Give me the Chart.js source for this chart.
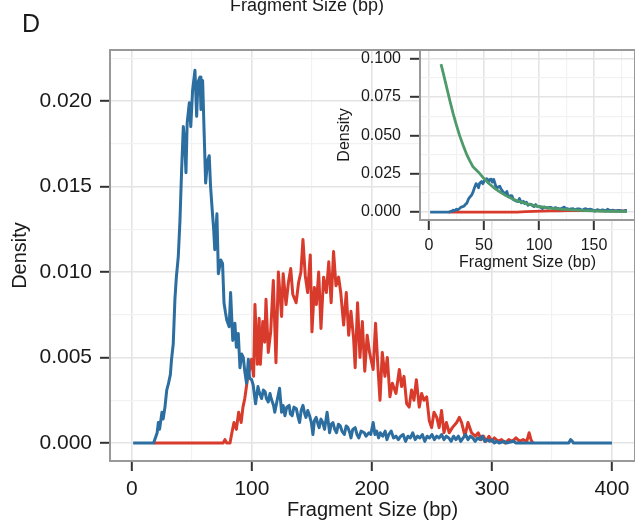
<!DOCTYPE html>
<html>
<head>
<meta charset="utf-8">
<script src="https://cdn.jsdelivr.net/npm/chart.js@4.4.1/dist/chart.umd.min.js"></script>
<style>
  html, body { margin: 0; padding: 0; background: #fff; }
  #wrap { position: relative; width: 635px; height: 522px; overflow: hidden;
          font-family: "Liberation Sans", Arial, sans-serif; color: #1a1a1a; }
  #mainChart { position: absolute; left: 0; top: 0; }
  #insetChart { position: absolute; left: 330px; top: 40px; }
  .label { position: absolute; white-space: nowrap; }
  #panelLetter { left: 22px; top: 11px; font-size: 25px; line-height: 25px; }
  #topTitle { left: 157px; top: -4px; width: 300px; text-align: center; font-size: 18px; line-height: 18px; }
</style>
</head>
<body>
<div id="wrap">
  <canvas id="mainChart" width="635" height="522"></canvas>
  <canvas id="insetChart" width="305" height="235"></canvas>
  <div class="label" id="panelLetter">D</div>
  <div class="label" id="topTitle">Fragment Size (bp)</div>
</div>
<script>
// --- DATA ---
const blueSize = [
  1, 18, 20, 21, 22, 23, 25, 26, 27.5, 29,
  30.5, 32, 33, 34.4, 35.8, 37, 38.6, 40, 41.4, 42.8,
  44, 45, 46, 47.8, 49, 50.5, 52.5, 53.9, 55, 56.7,
  57.5, 58.9, 60, 61.4, 63, 64.4, 65.5, 67, 68, 69,
  70.8, 72, 74, 75.5, 76.7, 78, 79, 81, 82.2, 84,
  85.8, 87, 88.6, 90, 91.5, 92.8, 94, 95.5, 97, 98,
  99.7, 101, 103, 105, 106, 108, 109.5, 111, 112, 113.6,
  115, 116, 118, 119, 121, 123, 124.7, 126, 127.5, 129,
  131, 132, 133.5, 135, 137, 138.5, 139.7, 141, 142.5, 144,
  145, 146.5, 148, 149.5, 150.8, 152, 153.5, 155, 156, 157.5,
  159, 160.5, 162.6, 164.7, 166, 167.5, 169, 170.5, 172, 173.6,
  175, 177, 178.5, 180, 181.5, 182.5, 184, 186, 187.5, 189,
  191, 193.6, 195, 197.5, 199, 201, 202.5, 204, 205.5, 207,
  209, 211, 212.5, 214, 216, 218, 220, 222, 224, 226,
  228, 230, 232, 234, 236, 238, 240, 242, 244, 246,
  248, 250, 252, 254, 256, 258, 260, 262, 264, 266,
  268, 270, 272, 274, 276, 278, 280, 282, 284, 286,
  288, 290, 292, 294, 296, 298, 300, 302, 304, 306,
  310, 312, 318, 320, 364, 365.5, 367, 368, 400
];
const blueDensity = [
  0, 0, 0.0004, 0.0006, 0.0012, 0.0008, 0.0018, 0.0014, 0.0021, 0.0031,
  0.0035, 0.0040, 0.0049, 0.0058, 0.0084, 0.0097, 0.0109, 0.0130, 0.0160, 0.0185,
  0.0175, 0.0158, 0.0187, 0.0199, 0.0185, 0.0206, 0.0218, 0.0191, 0.0211, 0.0214,
  0.0195, 0.0212, 0.0185, 0.0152, 0.0165, 0.0168, 0.0150, 0.0135, 0.0126, 0.0113,
  0.0134, 0.0099, 0.0107, 0.0105, 0.0082, 0.0076, 0.0072, 0.0068, 0.0088, 0.0060,
  0.0070, 0.0056, 0.0064, 0.0044, 0.0052, 0.0050, 0.0042, 0.0035, 0.0049, 0.0038,
  0.0037, 0.0034, 0.0023, 0.0033, 0.0030, 0.0026, 0.0031, 0.0030, 0.0026, 0.0024,
  0.0029, 0.0026, 0.0022, 0.0018, 0.0025, 0.0032, 0.0018, 0.0022, 0.0016, 0.0021,
  0.0022, 0.0017, 0.0016, 0.0021, 0.0020, 0.0015, 0.0012, 0.0019, 0.0022, 0.0017,
  0.0015, 0.0019, 0.0016, 0.0012, 0.0005, 0.0013, 0.0015, 0.0011, 0.0009, 0.0014,
  0.0012, 0.0008, 0.0018, 0.0006, 0.0011, 0.0012, 0.0008, 0.0006, 0.0011, 0.0010,
  0.0007, 0.0005, 0.0010, 0.0009, 0.0006, 0.0003, 0.0008, 0.0009, 0.0005, 0.0003,
  0.0007, 0.0006, 0.0004, 0.0006, 0.0005, 0.0012, 0.0005, 0.0007, 0.0003, 0.0006,
  0.0004, 0.0007, 0.0002, 0.0005, 0.0007, 0.0003, 0.0004, 0.0002, 0.0004, 0.0005,
  0.0001, 0.0004, 0.0003, 0.0006, 0.0002, 0.0004, 0.0003, 0.0005, 0.0001, 0.0004,
  0.0003, 0.0005, 0.0002, 0.0004, 0.0003, 0.0005, 0.0002, 0.0004, 0.0003, 0.0001,
  0.0004, 0.0002, 0.0004, 0.0001, 0.0003, 0.0005, 0.0002, 0.0004, 0.0003, 0.0001,
  0.0003, 0.0002, 0.0004, 0.0001, 0.0002, 0.0001, 0.0002, 0, 0.0001, 0,
  0.0001, 0, 0.0001, 0, 0, 0.0002, 0.0001, 0, 0
];

const redSize = [
  18, 76, 77.5, 79, 81.7, 83, 85, 87, 88.9, 91,
  92.5, 94, 95, 97, 98.6, 99.7, 101.4, 102.5, 104.5, 106,
  107, 109, 110.6, 111.7, 113.6, 115.6, 117.8, 120, 122, 124.7,
  126, 128.4, 130.4, 132.3, 134, 136.8, 138.9, 140.8, 142.5, 144.4,
  146.4, 148.6, 150, 152, 153.7, 155.6, 157.5, 159.7, 162, 164,
  166, 168, 170, 172.2, 174, 176.4, 178.6, 180.6, 182.5, 184.7,
  186, 188, 190, 192, 194, 196, 198, 201, 203, 205,
  206.7, 208.6, 210.8, 212.8, 215, 217, 220, 222.8, 224.7, 226.7,
  228.9, 231, 233, 235, 237, 239.4, 241.4, 243.3, 245.6, 247.8,
  249.7, 251.7, 254, 256, 258, 260, 262, 264.4, 267, 270.6,
  272.8, 274.7, 277.5, 280, 283, 286, 288.6, 291, 293, 295,
  297.5, 300, 302, 305, 308, 311, 314, 317, 320, 323,
  326, 329, 331, 332.5, 334
];
const redDensity = [
  0, 0, 0.0002, 0, 0, 0.0005, 0.0012, 0.0008, 0.0018, 0.0012,
  0.0021, 0.0026, 0.0031, 0.0041, 0.0044, 0.0049, 0.0039, 0.0081, 0.0046, 0.0073,
  0.0046, 0.0071, 0.0059, 0.0084, 0.0053, 0.0065, 0.0095, 0.0047, 0.0100, 0.0074,
  0.0099, 0.0081, 0.0094, 0.0102, 0.0087, 0.0082, 0.0094, 0.0100, 0.0119, 0.0098,
  0.0088, 0.0110, 0.0065, 0.0091, 0.0081, 0.0100, 0.0067, 0.0097, 0.0088, 0.0106,
  0.0082, 0.0112, 0.0092, 0.0097, 0.0088, 0.0069, 0.0088, 0.0063, 0.0077, 0.0061,
  0.0044, 0.0082, 0.0050, 0.0071, 0.0042, 0.0063, 0.0053, 0.0043, 0.0070, 0.0044,
  0.0025, 0.0053, 0.0039, 0.0050, 0.0027, 0.0035, 0.0029, 0.0043, 0.0033, 0.0039,
  0.0023, 0.0021, 0.0031, 0.0025, 0.0037, 0.0021, 0.0029, 0.0025, 0.0027, 0.0013,
  0.0009, 0.0018, 0.0015, 0.0009, 0.0019, 0.0006, 0.0012, 0.0006, 0.0009, 0.0012,
  0.0015, 0.0012, 0.0004, 0.0012, 0.0006, 0.0004, 0.0006, 0.0002, 0.0004, 0.0001,
  0.0004, 0.0001, 0.0003, 0.0001, 0.0002, 0, 0.0002, 0.0001, 0.0003, 0.0001,
  0.0002, 0.0001, 0.0006, 0.0002, 0
];

// inset: fitted curve (green) and the second sample at inset scale
const greenSize = [10.9, 13, 16, 19, 22, 25, 28, 31, 34, 37, 40, 45, 50, 55, 60, 65, 70, 76, 83, 90, 100, 110, 120, 130, 143, 160, 180];
const greenDensity = [0.0965, 0.0905, 0.0815, 0.0725, 0.0640, 0.0565, 0.0495, 0.0435, 0.0380, 0.0335, 0.0295, 0.0260, 0.0218, 0.0183, 0.0153, 0.0128, 0.0107, 0.0085, 0.0066, 0.0051, 0.0036, 0.0026, 0.0019, 0.0014, 0.0009, 0.0005, 0.0002];
const insetRedSize = [18, 80, 88, 95, 102, 110, 118, 126, 134, 142, 150, 158, 166, 174, 180];
const insetRedDensity = [0, 0, 0.0002, 0.0004, 0.0006, 0.0008, 0.0007, 0.0009, 0.0010, 0.0009, 0.0010, 0.0008, 0.0009, 0.0007, 0.0008];
const insetMaxSize = 180;

// --- TICKS ---
const mainXTicks = [0, 50, 100, 150, 200, 250, 300, 350, 400];
const mainXLabelled = [0, 100, 200, 300, 400];
const mainYTicks = [0, 0.0025, 0.005, 0.0075, 0.01, 0.0125, 0.015, 0.0175, 0.02, 0.0225];
const mainYLabelled = [0, 0.005, 0.01, 0.015, 0.02];
const insetXTicks = [0, 25, 50, 75, 100, 125, 150, 175];
const insetXLabelled = [0, 50, 100, 150];
const insetYTicks = [0, 0.0125, 0.025, 0.0375, 0.05, 0.0625, 0.075, 0.0875, 0.1];
const insetYLabelled = [0, 0.025, 0.05, 0.075, 0.1];

// --- STYLE ---
const BLUE = '#2c6e9f';
const RED = '#d83b2b';
const GREEN = '#4e9a6a';
const FONT = "'Liberation Sans', Arial, sans-serif";
Chart.defaults.font.family = FONT;
Chart.defaults.color = '#1a1a1a';

function toPoints(xs, ys, maxX) {
  const pts = xs.map((x, i) => ({ x: x, y: ys[i] }));
  return maxX === undefined ? pts : pts.filter(p => p.x <= maxX);
}

function lineSet(label, xs, ys, color, width, maxX) {
  return {
    label: label,
    data: toPoints(xs, ys, maxX),
    borderColor: color,
    borderWidth: width,
    pointRadius: 0,
    tension: 0,
    borderJoinStyle: 'round',
    fill: false
  };
}

function gridFor(labelled) {
  const major = c => c.tick && labelled.includes(c.tick.value);
  return {
    color: c => major(c) ? '#e4e4e4' : '#f2f2f2',
    lineWidth: c => major(c) ? 1.6 : 1.2,
    tickColor: c => major(c) ? '#333333' : 'rgba(0,0,0,0)',
    tickWidth: 2,
    tickLength: 10,
    drawTicks: true
  };
}

function axis(opts) {
  return {
    type: 'linear',
    min: opts.min,
    max: opts.max,
    border: { display: false },
    grid: gridFor(opts.labelled),
    afterBuildTicks: scale => { scale.ticks = opts.ticks.map(v => ({ value: v })); },
    afterFit: scale => {
      if (opts.width) scale.width = opts.width;
      if (opts.height) scale.height = opts.height;
      // labels may overhang the panel; keep the panel where it is
      scale.paddingTop = 0;
      scale.paddingBottom = 0;
      scale.paddingLeft = 0;
      scale.paddingRight = 0;
    },
    ticks: {
      autoSkip: false,
      maxRotation: 0,
      padding: opts.pad,
      font: { size: opts.fontSize },
      color: '#1a1a1a',
      callback: v => opts.labelled.includes(v) ? opts.fmt(v) : ''
    },
    title: {
      display: true,
      text: opts.title,
      font: { size: opts.titleSize || opts.fontSize },
      color: '#1a1a1a',
      padding: opts.titlePad
    }
  };
}

// panel background + grey frame, like a bw theme
const panelBox = {
  id: 'panelBox',
  beforeDraw(chart, args, o) {
    if (!o.fill) return;
    const a = chart.chartArea, ctx = chart.ctx;
    ctx.save();
    ctx.fillStyle = o.fill;
    ctx.fillRect(a.left, a.top, a.right - a.left, a.bottom - a.top);
    ctx.restore();
  },
  afterDraw(chart, args, o) {
    const a = chart.chartArea, ctx = chart.ctx;
    ctx.save();
    ctx.strokeStyle = o.stroke || '#999999';
    ctx.lineWidth = 2;
    ctx.strokeRect(a.left, a.top, a.right - a.left, a.bottom - a.top);
    ctx.restore();
  }
};

// --- MAIN CHART ---
new Chart(document.getElementById('mainChart'), {
  type: 'line',
  data: {
    datasets: [
      lineSet('Sample A', blueSize, blueDensity, BLUE, 3),
      lineSet('Sample B', redSize, redDensity, RED, 3)
    ]
  },
  options: {
    responsive: false,
    animation: false,
    devicePixelRatio: 1,
    layout: { padding: { top: 50, right: 0, left: 0, bottom: 0 } },
    plugins: { legend: { display: false }, tooltip: { enabled: false }, panelBox: { stroke: '#999999' } },
    scales: {
      x: axis({ min: -18.3, max: 419.2, ticks: mainXTicks, labelled: mainXLabelled, fmt: v => String(v),
                height: 61, pad: 6, fontSize: 21, titleSize: 20, title: 'Fragment Size (bp)', titlePad: { top: 0, bottom: 0 } }),
      y: axis({ min: -0.00105, max: 0.02298, ticks: mainYTicks, labelled: mainYLabelled, fmt: v => v.toFixed(3),
                width: 110, pad: 8, fontSize: 21, titleSize: 20, title: 'Density', titlePad: { top: 8, bottom: 0 } })
    }
  },
  plugins: [panelBox]
});

// --- INSET CHART ---
new Chart(document.getElementById('insetChart'), {
  type: 'line',
  data: {
    datasets: [
      lineSet('Fit', greenSize, greenDensity, GREEN, 2.8),
      lineSet('Sample A', blueSize, blueDensity, BLUE, 2.8, insetMaxSize),
      lineSet('Sample B', insetRedSize, insetRedDensity, RED, 2.8)
    ]
  },
  options: {
    responsive: false,
    animation: false,
    devicePixelRatio: 1,
    layout: { padding: { top: 10, right: 0, left: 0, bottom: 0 } },
    plugins: { legend: { display: false }, tooltip: { enabled: false }, panelBox: { fill: '#ffffff', stroke: '#999999' } },
    scales: {
      x: axis({ min: -8.2, max: 187.3, ticks: insetXTicks, labelled: insetXLabelled, fmt: v => String(v),
                height: 55, pad: 6, fontSize: 16, title: 'Fragment Size (bp)', titlePad: { top: 0, bottom: 3 } }),
      y: axis({ min: -0.0052, max: 0.1057, ticks: insetYTicks, labelled: insetYLabelled, fmt: v => v.toFixed(3),
                width: 90, pad: 9, fontSize: 16, title: 'Density', titlePad: { top: 5, bottom: 0 } })
    }
  },
  plugins: [panelBox]
});
</script>
</body>
</html>
